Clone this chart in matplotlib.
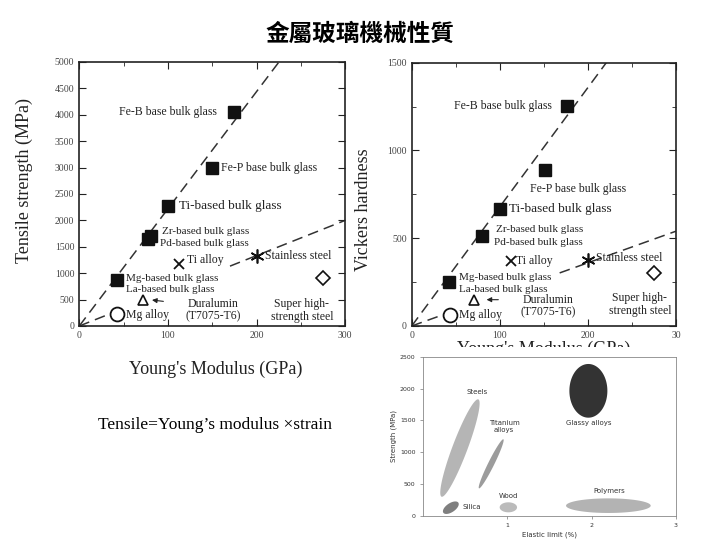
import numpy as np
import matplotlib
matplotlib.use('Agg')
import matplotlib.pyplot as plt
from matplotlib.patches import Polygon, Rectangle
from matplotlib.ticker import MultipleLocator

# --- data ---
# tensile strength vs Young's modulus
bulk_E = [175, 150, 100, 78, 81, 42]
bulk_ts = [4050, 3000, 2270, 1640, 1700, 880]
# crystalline alloys: Ti alloy, stainless, super high-strength steel, duralumin, Mg alloy
alloy_E = [112, 200, 275, 72, 43]
alloy_ts = [1180, 1330, 900, 500, 220]
ts_slopes = [22.2, 6.67]          # dashed guide lines (MPa/GPa)

# vickers hardness vs Young's modulus
bulk_E2 = [176, 151, 100, 80, 42]
bulk_hv = [1253, 889, 665, 515, 253]
alloy_E2 = [113, 200, 275, 71, 44]
alloy_hv = [370, 376, 304, 148, 63]
hv_slopes = [6.79, 1.8]

x_ticks = [0, 100, 200, 300]
x_labels_ts = ['0', '100', '200', '300']
x_labels_hv = ['0', '100', '200', '30']   # last label is clipped on the slide

# Ashby style chart: elastic limit (%) / strength (MPa) regions (major axis ends)
regions = ['Steels', 'Titanium\nalloys', 'Glassy alloys', 'Polymers', 'Wood', 'Silica']
reg_x1 = [0.22, 0.664, 1.961, 1.696, 0.909, 0.241]
reg_y1 = [299, 431, 1544, 158, 132, 47]
reg_x2 = [0.656, 0.953, 1.961, 2.70, 1.115, 0.419]
reg_y2 = [1833, 1204, 2390, 158, 132, 205]
reg_halfw = [7.5, 3, 19, 7.3, 5, 4.5]   # px
reg_col = ['#b5b5b5', '#9c9c9c', '#333333', '#b3b3b3', '#bbbbbb', '#7f7f7f']
reg_lx = [0.637, 0.961, 1.961, 2.21, 1.012, 0.47]
reg_ly = [1944, 1403, 1466, 394, 316, 132]

serif = 'Liberation Serif'

fig = plt.figure(figsize=(7.2, 5.4), dpi=100)
fig.patch.set_facecolor('white')

fig.text(0.5, 0.938, '金屬玻璃機械性質', ha='center', va='center', fontsize=17,
         fontweight='bold', family=['Noto Sans CJK TC', 'DejaVu Sans'])


def style_scan_axes(ax, xmax, ymax, ymaj, ymin, xlabels):
    ax.set_xlim(0, xmax)
    ax.set_ylim(0, ymax)
    ax.set_xticks(x_ticks, xlabels)
    ax.xaxis.set_minor_locator(MultipleLocator(50))
    ax.yaxis.set_major_locator(MultipleLocator(ymaj))
    ax.yaxis.set_minor_locator(MultipleLocator(ymin))
    ax.tick_params(which='both', direction='in', top=True, right=True,
                   labelsize=7, labelcolor='#444444', color='#222222')
    ax.tick_params(which='major', length=5)
    ax.tick_params(which='minor', length=3)
    for lab in ax.get_xticklabels() + ax.get_yticklabels():
        lab.set_family(serif)
    for s in ax.spines.values():
        s.set_linewidth(1.2)
        s.set_color('#222222')


def guide_lines(ax, slopes, gaps_from, gaps_to, xmax):
    # steep line full length, shallow line interrupted by labels
    xs = np.array([0, xmax])
    ax.plot(xs, slopes[0] * xs, ls=(0, (7, 4)), color='#333333', lw=1.1, zorder=1)
    for xa, xb in [(0, gaps_from), (gaps_to, xmax)]:
        xs = np.array([xa, xb])
        ax.plot(xs, slopes[1] * xs, ls=(0, (7, 4)), color='#333333', lw=1.1, zorder=1)


def alloy_markers(ax, xs, ys):
    ax.plot(xs[0], ys[0], marker='x', ms=7, mew=1.3, color='#111111', ls='none')
    ax.plot(xs[1], ys[1], marker=(6, 2, 0), ms=10, mew=1.2, color='#111111', ls='none')
    ax.plot(xs[2], ys[2], marker='D', ms=7, mfc='white', mec='#111111', mew=1.2, ls='none')
    ax.plot(xs[3], ys[3], marker='^', ms=7, mfc='white', mec='#111111', mew=1.2, ls='none')
    ax.plot(xs[4], ys[4], marker='o', ms=10, mfc='white', mec='#111111', mew=1.3, ls='none')


fs = 8.5
t = dict(family=serif, fontsize=fs, color='#222222', va='center')
t_small = dict(family=serif, fontsize=8, color='#222222', va='center')
arrow = dict(arrowstyle='-|>', color='#222222', lw=0.8, shrinkA=14, shrinkB=0,
             mutation_scale=7, relpos=(0.0, 0.75))

# ---------- left: tensile strength ----------
ax1 = fig.add_axes([0.1101, 0.3963, 0.3694, 0.4889])
style_scan_axes(ax1, 300, 5000, 500, 500, x_labels_ts)
guide_lines(ax1, ts_slopes, 42, 170, 300)
ax1.plot(bulk_E, bulk_ts, 's', ms=8, color='#111111', zorder=3)
alloy_markers(ax1, alloy_E, alloy_ts)

ax1.text(155, 4050, 'Fe-B base bulk glass', ha='right', **t)
ax1.text(160, 3000, 'Fe-P base bulk glass', ha='left', **t)
ax1.text(113, 2270, 'Ti-based bulk glass', ha='left', fontsize=9.5, family=serif,
         color='#222222', va='center')
ax1.text(93, 1790, 'Zr-based bulk glass', ha='left', **t_small)
ax1.text(91, 1560, 'Pd-based bulk glass', ha='left', **t_small)
ax1.text(121, 1249, 'Ti alloy', ha='left', **t)
ax1.text(209, 1330, 'Stainless steel', ha='left', **t)
ax1.text(53, 895, 'Mg-based bulk glass', ha='left', **t_small)
ax1.text(53, 682, 'La-based bulk glass', ha='left', **t_small)
ax1.text(251, 290, 'Super high-\nstrength steel', ha='center', linespacing=1.1, **t)
ax1.text(53, 208, 'Mg alloy', ha='left', **t)
ax1.annotate('Duralumin\n(T7075-T6)', xy=(82, 492), xytext=(151, 300), ha='center',
             linespacing=1.1, arrowprops=arrow, **t)
ax1.set_xlabel("Young's Modulus (GPa)", family=serif, fontsize=13, color='#222222')
ax1.xaxis.set_label_coords(0.514, -0.13)
ax1.set_ylabel('Tensile strength (MPa)', family=serif, fontsize=13, color='#222222')
ax1.yaxis.set_label_coords(-0.174, 0.55)

# ---------- right: vickers hardness ----------
ax2 = fig.add_axes([0.5718, 0.3963, 0.3670, 0.4876])
style_scan_axes(ax2, 300, 1500, 500, 250, x_labels_hv)
guide_lines(ax2, hv_slopes, 43, 168, 300)
ax2.plot(bulk_E2, bulk_hv, 's', ms=8.5, color='#111111', zorder=3)
alloy_markers(ax2, alloy_E2, alloy_hv)

ax2.text(159, 1253, 'Fe-B base bulk glass', ha='right', **t)
ax2.text(134, 778, 'Fe-P base bulk glass', ha='left', **t)
ax2.text(110, 665, 'Ti-based bulk glass', ha='left', fontsize=9.5, family=serif,
         color='#222222', va='center')
ax2.text(96, 550, 'Zr-based bulk glass', ha='left', **t_small)
ax2.text(94, 474, 'Pd-based bulk glass', ha='left', **t_small)
ax2.text(118, 370, 'Ti alloy', ha='left', **t)
ax2.text(209, 389, 'Stainless steel', ha='left', **t)
ax2.text(54, 274, 'Mg-based bulk glass', ha='left', **t_small)
ax2.text(54, 207, 'La-based bulk glass', ha='left', **t_small)
ax2.text(259, 123, 'Super high-\nstrength steel', ha='center', linespacing=1.1, **t)
ax2.text(54, 63, 'Mg alloy', ha='left', **t)
ax2.annotate('Duralumin\n(T7075-T6)', xy=(85, 150), xytext=(155, 114), ha='center',
             linespacing=1.1, arrowprops=arrow, **t)
ax2.set_xlabel("Young's Modulus (GPa)", family=serif, fontsize=13, color='#222222')
ax2.xaxis.set_label_coords(0.5, -0.055)
ax2.set_ylabel('Vickers hardness', family=serif, fontsize=13, color='#222222')
ax2.yaxis.set_label_coords(-0.151, 0.44)

# white band: the lower picture covers part of the right x label
fig.add_artist(Rectangle((0.53, 0.0), 0.47, 1 - 347 / 540, transform=fig.transFigure,
                         facecolor='white', edgecolor='none', zorder=1))

# text on the left lower side
fig.text(0.2986, 1 - 425 / 540, 'Tensile=Young\u2019s modulus \u00d7strain', ha='center',
         va='center', family=serif, fontsize=12.5, color='black')

# ---------- lower right: Ashby chart ----------
ax3 = fig.add_axes([0.5875, 0.045, 0.3514, 0.2939])
ax3.set_zorder(2)
ax3.set_xlim(0, 3)
ax3.set_ylim(0, 2500)
ax3.set_xticks([1, 2, 3])
ax3.set_yticks([0, 500, 1000, 1500, 2000, 2500])
ax3.tick_params(labelsize=4.5, labelcolor='#333333', length=2, width=0.5, color='#777777')
for s in ax3.spines.values():
    s.set_linewidth(0.6)
    s.set_color('#888888')
ax3.set_xlabel('Elastic limit (%)', fontsize=5, color='#333333', labelpad=2)
ax3.set_ylabel('Strength (MPa)', fontsize=5, color='#333333', labelpad=2)

tr = ax3.transData
inv = tr.inverted()
ang = np.linspace(0, 2 * np.pi, 120)
for i in range(len(regions)):
    p1 = tr.transform((reg_x1[i], reg_y1[i]))
    p2 = tr.transform((reg_x2[i], reg_y2[i]))
    c = (p1 + p2) / 2
    u = (p2 - p1) / 2
    v = np.array([-u[1], u[0]]) / np.hypot(*u) * reg_halfw[i]
    pts = c + np.outer(np.cos(ang), u) + np.outer(np.sin(ang), v)
    ax3.add_patch(Polygon(inv.transform(pts), closed=True, facecolor=reg_col[i],
                          edgecolor='none'))
    ha = 'left' if regions[i] == 'Silica' else 'center'
    ax3.text(reg_lx[i], reg_ly[i], regions[i], fontsize=5, color='#333333',
             ha=ha, va='center', linespacing=1.3)

fig.savefig('out.png', dpi=100)
